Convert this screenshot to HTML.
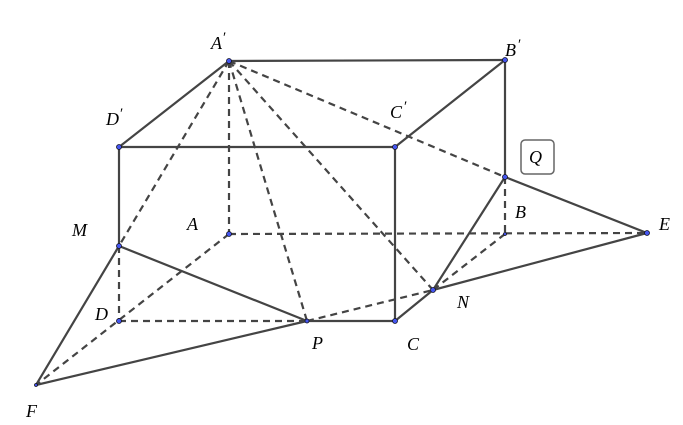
<!DOCTYPE html>
<html><head><meta charset="utf-8"><style>
html,body{margin:0;padding:0;background:#fff;}
svg{display:block;}
text{font-family:"Liberation Serif",serif;font-style:italic;font-size:18px;fill:#000;}
.pr{font-size:15px;font-style:normal;}
.s{stroke:#444;stroke-width:2.2;fill:none;}
.d{stroke:#444;stroke-width:2.2;fill:none;stroke-dasharray:7,5;}
.p{fill:#4455ee;stroke:#112;stroke-width:0.8;}
</style></head><body>
<svg width="683" height="425" viewBox="0 0 683 425">
<line class="d" x1="229" y1="61" x2="229" y2="234"/>
<line class="d" x1="229" y1="234" x2="647" y2="233"/>
<line class="d" x1="229" y1="234" x2="36" y2="385"/>
<line class="d" x1="119" y1="321" x2="307" y2="321"/>
<line class="d" x1="119" y1="246" x2="119" y2="321"/>
<line class="d" x1="229" y1="61" x2="119" y2="246"/>
<line class="d" x1="229" y1="61" x2="307" y2="321"/>
<line class="d" x1="229" y1="61" x2="433" y2="290"/>
<line class="d" x1="229" y1="61" x2="505" y2="177"/>
<line class="d" x1="505" y1="177" x2="505" y2="234"/>
<line class="d" x1="505" y1="234" x2="433" y2="290"/>
<line class="d" x1="307" y1="321" x2="433" y2="290"/>
<line class="s" x1="229" y1="61" x2="505" y2="60"/>
<line class="s" x1="229" y1="61" x2="119" y2="147"/>
<line class="s" x1="119" y1="147" x2="395" y2="147"/>
<line class="s" x1="395" y1="147" x2="505" y2="60"/>
<line class="s" x1="119" y1="147" x2="119" y2="246"/>
<line class="s" x1="395" y1="147" x2="395" y2="321"/>
<line class="s" x1="505" y1="60" x2="505" y2="177"/>
<line class="s" x1="307" y1="321" x2="395" y2="321"/>
<line class="s" x1="395" y1="321" x2="433" y2="290"/>
<line class="s" x1="433" y1="290" x2="505" y2="177"/>
<line class="s" x1="505" y1="177" x2="647" y2="233"/>
<line class="s" x1="433" y1="290" x2="647" y2="233"/>
<line class="s" x1="119" y1="246" x2="307" y2="321"/>
<line class="s" x1="119" y1="246" x2="36" y2="385"/>
<line class="s" x1="36" y1="385" x2="307" y2="321"/>
<g class="p">
<circle cx="229" cy="61" r="2.5"/><circle cx="505" cy="60" r="2.5"/>
<circle cx="119" cy="147" r="2.5"/><circle cx="395" cy="147" r="2.5"/>
<circle cx="229" cy="234" r="2.5"/><circle cx="505" cy="234" r="1.5"/>
<circle cx="119" cy="321" r="2.5"/><circle cx="395" cy="321" r="2.5"/>
<circle cx="119" cy="246" r="2.5"/><circle cx="307" cy="321" r="2"/>
<circle cx="433" cy="290" r="2.5"/><circle cx="647" cy="233" r="2.5"/>
<circle cx="505" cy="177" r="2.5"/><circle cx="36" cy="385" r="1.5"/>
</g>
<rect x="521" y="140" width="33" height="34" rx="4" ry="4" fill="#fff" stroke="#666" stroke-width="1.5"/>
<text x="529" y="163">Q</text>
<text x="211" y="49">A</text><text class="pr" x="223" y="42">′</text>
<text x="505" y="56">B</text><text class="pr" x="518" y="49">′</text>
<text x="106" y="125">D</text><text class="pr" x="120" y="118">′</text>
<text x="390" y="118">C</text><text class="pr" x="404" y="111">′</text>
<text x="187" y="230">A</text>
<text x="515" y="218">B</text>
<text x="659" y="230">E</text>
<text x="72" y="236">M</text>
<text x="95" y="320">D</text>
<text x="312" y="349">P</text>
<text x="407" y="350">C</text>
<text x="457" y="308">N</text>
<text x="26" y="417">F</text>
</svg>
</body></html>
